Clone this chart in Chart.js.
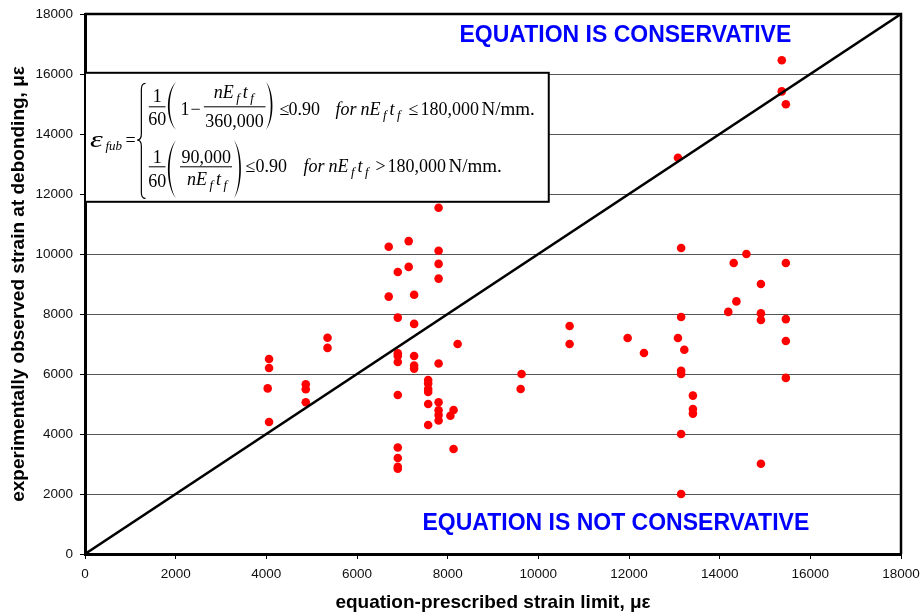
<!DOCTYPE html>
<html>
<head>
<meta charset="utf-8">
<script src="https://cdn.jsdelivr.net/npm/chart.js@4.4.1/dist/chart.umd.min.js"></script>
<style>
    html, body { margin: 0; padding: 0; background: #fff; }
    canvas { display: block; }
</style>
</head>
<body>
<canvas id="chart" width="921" height="616"></canvas>
<script>
// equation-prescribed strain limit (x) and observed strain at debonding (y), in microstrain
const prescribed = [
    4060, 4060, 4030, 4060,
    4870, 4870, 4870,
    5350, 5350,
    6700, 6700,
    6900, 6900, 6900, 6900, 6900, 6900, 6900, 6900, 6900, 6900,
    7140, 7140,
    7260, 7260, 7260, 7260, 7260,
    7570, 7570, 7570, 7570, 7570, 7570,
    7800, 7800, 7800, 7800, 7800, 7800, 7800, 7800, 7800,
    8060, 8130, 8130, 8220,
    9630, 9610, 10690, 10690, 11970, 12330,
    13080, 13150, 13150, 13080, 13220, 13150, 13150, 13150, 13150,
    13410, 13410, 13410,
    14190, 14310, 14370, 14590,
    14910, 14910, 14910, 14910,
    15370, 15370,
    15460, 15460, 15460, 15460, 15460
];
const observed = [
    6500, 6200, 5520, 4400,
    5660, 5490, 5060,
    7210, 6870,
    10240, 8580,
    9400, 7880, 6690, 6600, 6400, 5300, 3550, 3200, 2910, 2840,
    10430, 9570,
    8640, 7670, 6600, 6280, 6180,
    5800, 5680, 5500, 5400, 5000, 4300,
    11540, 10110, 9670, 9180, 6350, 5060, 4790, 4630, 4450,
    4610, 4800, 3500, 7000,
    6000, 5500, 7600, 7000, 7200, 6700,
    13210, 10200, 7900, 7200, 6810, 6110, 6000, 4000, 2000,
    5280, 4830, 4680,
    8070, 9700, 8420, 10000,
    9000, 8020, 7800, 3010,
    16460, 15420,
    14990, 9700, 7830, 7100, 5870
];
const equalityLine = [0, 18000];
const axisMin = 0;
const axisMax = 18000;
const axisStep = 2000;

const xTitle = 'equation-prescribed strain limit, \u03bc\u03b5';
const yTitle = 'experimentally observed strain at debonding, \u03bc\u03b5';
const upperNote = 'EQUATION IS CONSERVATIVE';
const lowerNote = 'EQUATION IS NOT CONSERVATIVE';

const SANS = '"Liberation Sans", Arial, sans-serif';
const SERIF = '"Liberation Serif", "Times New Roman", serif';

// ---- little helpers for the equation box ----
function setFont(ctx, st) {
    if (st === 's') ctx.font = `italic 13px ${SERIF}`;
    else if (st === 'b') ctx.font = `19px ${SERIF}`;
    else ctx.font = `${st === 'i' ? 'italic ' : ''}18px ${SERIF}`;
}

function runWidth(ctx, parts) {
    let w = 0;
    parts.forEach(([t, st, gap]) => {
        setFont(ctx, st);
        w += (gap || 0) + ctx.measureText(t).width;
    });
    return w;
}

function run(ctx, x, y, parts) {
    parts.forEach(([t, st, gap]) => {
        x += gap || 0;
        setFont(ctx, st);
        ctx.fillText(t, x, st === 's' ? y + 4 : y);
        x += ctx.measureText(t).width;
    });
    return x;
}

function centered(ctx, cx, y, parts) {
    run(ctx, cx - runWidth(ctx, parts) / 2, y, parts);
}

// pieces placed at their own x offsets: [x, parts]
function place(ctx, y, pieces) {
    pieces.forEach(([x, parts]) => run(ctx, x, y, parts));
}

function paren(ctx, x, top, bot, w, left) {
    const h = bot - top;
    const s = left ? -1 : 1;
    const xm = x + s * w / 0.75;
    const xi = x + s * (w - 1.7) / 0.75;
    ctx.beginPath();
    ctx.moveTo(x, top);
    ctx.bezierCurveTo(xm, top + h * 0.22, xm, bot - h * 0.22, x, bot);
    ctx.bezierCurveTo(xi, bot - h * 0.22, xi, top + h * 0.22, x, top);
    ctx.fill();
}

function brace(ctx, x, top, bot, mid, w) {
    const xc = x - w / 2;
    const xl = x - w;
    ctx.beginPath();
    ctx.moveTo(x, top);
    ctx.quadraticCurveTo(xc, top, xc, top + 6);
    ctx.lineTo(xc, mid - 6);
    ctx.quadraticCurveTo(xc, mid, xl, mid);
    ctx.quadraticCurveTo(xc, mid, xc, mid + 6);
    ctx.lineTo(xc, bot - 6);
    ctx.quadraticCurveTo(xc, bot, x, bot);
    ctx.stroke();
}

const nEftf = [['nE', 'i'], ['f', 's', 2.5], ['t', 'i', 3], ['f', 's', 2.5]];

const annotations = {
    id: 'annotations',
    afterDatasetsDraw(chart) {
        const { ctx, chartArea: a, scales: { x, y } } = chart;
        ctx.save();

        // frame on top and right
        ctx.strokeStyle = '#000';
        ctx.lineWidth = 2.5;
        ctx.beginPath();
        ctx.moveTo(a.left, a.top);
        ctx.lineTo(a.right, a.top);
        ctx.lineTo(a.right, a.bottom);
        ctx.stroke();

        // notes
        ctx.fillStyle = '#0000ff';
        ctx.font = `bold 23px ${SANS}`;
        ctx.textAlign = 'center';
        ctx.textBaseline = 'alphabetic';
        ctx.fillText(upperNote, x.getPixelForValue(11920), y.getPixelForValue(17080));
        ctx.fillText(lowerNote, x.getPixelForValue(11710), y.getPixelForValue(800));

        // equation box
        const bx = x.getPixelForValue(0);
        const by = y.getPixelForValue(16040);
        const bw = x.getPixelForValue(10230) - bx;
        const bh = y.getPixelForValue(11740) - by;
        ctx.fillStyle = '#fff';
        ctx.fillRect(bx, by, bw, bh);
        ctx.lineWidth = 2;
        ctx.strokeRect(bx, by, bw, bh);

        ctx.translate(bx, by);
        ctx.fillStyle = '#000';
        ctx.textAlign = 'left';

        // epsilon, stretched a little to match the equation-editor glyph
        ctx.save();
        ctx.translate(5, 74.6);
        ctx.scale(1.35, 1);
        ctx.font = `italic 24px ${SERIF}`;
        ctx.fillText('\u03b5', 0, 0);
        ctx.restore();
        ctx.font = `italic 13px ${SERIF}`;
        ctx.fillText('fub', 20.5, 77.5);
        ctx.font = `18px ${SERIF}`;
        ctx.fillText('=', 40.5, 73.3);

        ctx.lineWidth = 1.2;
        brace(ctx, 60.5, 10.6, 125.6, 67.3, 8.3);

        // row 1
        centered(ctx, 72.2, 29, [['1', 'r']]);
        ctx.fillRect(63.8, 33.5, 16.7, 1);
        centered(ctx, 72.2, 52.3, [['60', 'r']]);
        paren(ctx, 91, 9, 57.3, 8, true);
        run(ctx, 95.5, 41.8, [['1', 'r'], ['\u2212', 'r', 1]]);
        centered(ctx, 148.8, 25.6, nEftf);
        ctx.fillRect(118.8, 33.5, 61.7, 1);
        centered(ctx, 149.5, 54, [['360,000', 'r']]);
        paren(ctx, 181, 9, 57.3, 6.5, false);
        place(ctx, 41.8, [
            [194.5, [['\u2264', 'r']]],
            [203.5, [['0.90', 'r']]],
            [250.5, [['for', 'i']]],
            [275.5, nEftf],
            [323.5, [['\u2264', 'r']]],
            [335.5, [['180,000', 'r']]],
            [396.5, [['N/mm.', 'b']]]
        ]);

        // row 2
        centered(ctx, 72.2, 90, [['1', 'r']]);
        ctx.fillRect(63.8, 93.5, 16.7, 1);
        centered(ctx, 72.2, 114.6, [['60', 'r']]);
        paren(ctx, 91, 67.3, 125.6, 8, true);
        centered(ctx, 121.3, 90.6, [['90,000', 'r']]);
        ctx.fillRect(95, 93.5, 52, 1);
        centered(ctx, 122, 112.3, nEftf);
        paren(ctx, 149, 67.3, 125.6, 7, false);
        place(ctx, 99, [
            [160.5, [['\u2264', 'r']]],
            [170.5, [['0.90', 'r']]],
            [218.5, [['for', 'i']]],
            [243.5, nEftf],
            [290.5, [['>', 'r']]],
            [302.5, [['180,000', 'r']]],
            [363.5, [['N/mm.', 'b']]]
        ]);

        ctx.restore();
    }
};

new Chart(document.getElementById('chart'), {
    type: 'scatter',
    data: {
        datasets: [
            {
                type: 'line',
                data: equalityLine.map(v => ({ x: v, y: v })),
                borderColor: '#000',
                borderWidth: 2.5,
                pointRadius: 0,
                fill: false,
                tension: 0
            },
            {
                data: prescribed.map((v, i) => ({ x: v, y: observed[i] })),
                backgroundColor: '#ff0000',
                borderWidth: 0,
                pointRadius: 4.3
            }
        ]
    },
    options: {
        responsive: false,
        animation: false,
        layout: { padding: { top: 14, right: 20, left: 0, bottom: 0 } },
        plugins: {
            legend: { display: false },
            tooltip: { enabled: false }
        },
        scales: {
            x: {
                type: 'linear',
                min: axisMin,
                max: axisMax,
                ticks: {
                    stepSize: axisStep,
                    padding: 7,
                    color: '#111',
                    font: { family: SANS, size: 13.5 },
                    maxRotation: 0,
                    callback: v => String(v)
                },
                grid: { drawOnChartArea: false, drawTicks: true, tickLength: 5, tickColor: '#000' },
                border: { display: true, color: '#000', width: 3 },
                title: {
                    display: true,
                    text: xTitle,
                    color: '#000',
                    font: { family: SANS, size: 19, weight: 'bold' },
                    padding: { top: 0, bottom: 2 }
                },
                afterFit(scale) {
                    scale.height = 62;
                    scale.paddingLeft = 0;
                    scale.paddingRight = 0;
                }
            },
            y: {
                type: 'linear',
                min: axisMin,
                max: axisMax,
                ticks: {
                    stepSize: axisStep,
                    padding: 7,
                    color: '#111',
                    font: { family: SANS, size: 13.5 },
                    callback: v => String(v)
                },
                grid: { color: '#555', lineWidth: 1, drawTicks: true, tickLength: 5, tickColor: '#000' },
                border: { display: true, color: '#000', width: 3 },
                title: {
                    display: true,
                    text: yTitle,
                    color: '#000',
                    font: { family: SANS, size: 19, weight: 'bold' },
                    padding: { top: 7, bottom: 0 }
                },
                afterFit(scale) {
                    scale.width = 85;
                    scale.paddingTop = 0;
                    scale.paddingBottom = 0;
                }
            }
        }
    },
    plugins: [annotations]
});
</script>
</body>
</html>
